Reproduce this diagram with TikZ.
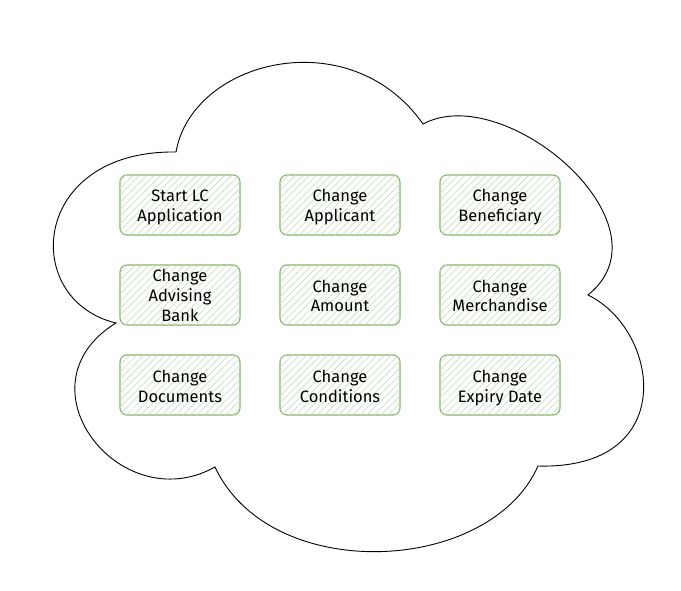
\documentclass[tikz,border=0pt]{standalone}
\usepackage{fontspec}
\setmainfont{Fira Sans}
\usetikzlibrary{patterns.meta}
\definecolor{boxline}{HTML}{82B366}
\definecolor{hatch}{HTML}{C8E0C1}
\newcommand\topst{\rule{0pt}{20pt}}
\begin{document}
\begin{tikzpicture}[x=1pt,y=-1pt,
  item/.style={draw=boxline, line width=1.1pt, rounded corners=7pt,
    minimum width=120pt, minimum height=60pt, align=center, inner sep=1pt,
    font=\fontsize{16.5}{20}\selectfont,
    postaction={pattern={Lines[angle=45,distance=5pt,line width=0.7pt]}, pattern color=hatch}},
  cloudline/.style={draw=black, line width=0.9pt}]
\useasboundingbox (0,0) rectangle (681,591);
\coordinate (c1) at (176,152);
\coordinate (c2) at (423,124);
\coordinate (c3) at (588,295);
\coordinate (c4) at (538,466);
\coordinate (c5) at (215,467);
\coordinate (c6) at (116,323);
\draw[cloudline] (c1) .. controls (192,60) and (350,20) .. (c2)
  .. controls (505,80) and (675,225) .. (c3)
  .. controls (660,330) and (680,470) .. (c4)
  .. controls (490,575) and (270,585) .. (c5)
  .. controls (120,520) and (15,385) .. (c6)
  .. controls (20,300) and (30,150) .. (c1) -- cycle;
\node[item] (n1) at (180,205) {\topst Start LC\\Application\strut};
\node[item] (n2) at (340,205) {\topst Change\\Applicant\strut};
\node[item] (n3) at (500,205) {\topst Change\\Beneficiary\strut};
\node[item, inner sep=0pt] (n4) at (180,295) {Change\\Advising\\Bank};
\node[item] (n5) at (340,295) {\topst Change\\Amount\strut};
\node[item] (n6) at (500,295) {\topst Change\\Merchandise\strut};
\node[item] (n7) at (180,385) {\topst Change\\Documents\strut};
\node[item] (n8) at (340,385) {\topst Change\\Conditions\strut};
\node[item] (n9) at (500,385) {\topst Change\\Expiry Date\strut};
\end{tikzpicture}
\end{document}
